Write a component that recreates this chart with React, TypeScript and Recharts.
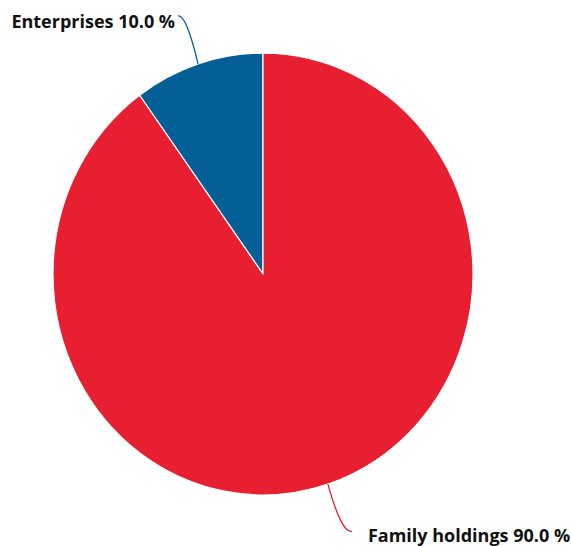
import React from "react";
import { PieChart, Pie, Cell } from "recharts";

const categories: string[] = ["Enterprises", "Family holdings"];
const shares: number[] = [10.0, 90.0];
const colors: string[] = ["#055f97", "#e81e31"];

const data = categories.map((name, i) => ({ name, value: shares[i] }));

const RX = 210;
const RY_SCALE = 1.052;
const RAD = Math.PI / 180;

const EllipseSector = (props: any) => {
  const { cx, cy, outerRadius, startAngle, endAngle, fill } = props;
  const rx = outerRadius;
  const ry = outerRadius * RY_SCALE;
  const p = (a: number) => [cx + rx * Math.cos(-a * RAD), cy + ry * Math.sin(-a * RAD)];
  const [x1, y1] = p(startAngle);
  const [x2, y2] = p(endAngle);
  const delta = endAngle - startAngle;
  const large = Math.abs(delta) > 180 ? 1 : 0;
  const sweep = delta > 0 ? 0 : 1;
  const d = `M${cx},${cy} L${x1},${y1} A${rx},${ry} 0 ${large} ${sweep} ${x2},${y2} Z`;
  return <path d={d} fill={fill} stroke="#ffffff" strokeWidth={1.2} strokeLinejoin="round" />;
};

const renderLabel = (props: any) => {
  const { cx, cy, midAngle, outerRadius, percent, name, index } = props;
  const ex = cx + outerRadius * Math.cos(-midAngle * RAD);
  const ey = cy + outerRadius * RY_SCALE * Math.sin(-midAngle * RAD);
  const left = Math.cos(-midAngle * RAD) < 0;
  const color = colors[index % colors.length];
  const text = `${name} ${(percent * 100).toFixed(1)} %`;
  if (left) {
    const d = `M${ex},${ey} Q${ex - 12},${ey - 50} ${ex - 20},${ey - 48}`;
    return (
      <g>
        <path d={d} fill="none" stroke={color} strokeWidth={1.3} />
        <text x={ex - 23} y={ey - 36} textAnchor="end" fill="#111" fontFamily="'Open Sans', sans-serif" fontWeight={700} fontSize={18}>
          {text}
        </text>
      </g>
    );
  }
  const d = `M${ex},${ey} Q${ex + 14},${ey + 50} ${ex + 24},${ey + 47}`;
  return (
    <g>
      <path d={d} fill="none" stroke={color} strokeWidth={1.3} />
      <text x={ex + 40} y={ey + 57.5} textAnchor="start" fill="#111" fontFamily="'Open Sans', sans-serif" fontWeight={700} fontSize={18}>
        {text}
      </text>
    </g>
  );
};

export default function App() {
  return (
    <div style={{ position: "absolute", left: 0, top: 0, background: "#fff" }}>
      <PieChart width={571} height={546} margin={{ top: 0, right: 0, bottom: 0, left: 0 }}>
        <Pie
          data={data}
          dataKey="value"
          nameKey="name"
          cx={263}
          cy={274}
          outerRadius={RX}
          startAngle={90}
          endAngle={450}
          isAnimationActive={false}
          shape={EllipseSector}
          label={renderLabel}
          labelLine={false}
        >
          {data.map((d, i) => (
            <Cell key={d.name} fill={colors[i]} />
          ))}
        </Pie>
      </PieChart>
    </div>
  );
}
